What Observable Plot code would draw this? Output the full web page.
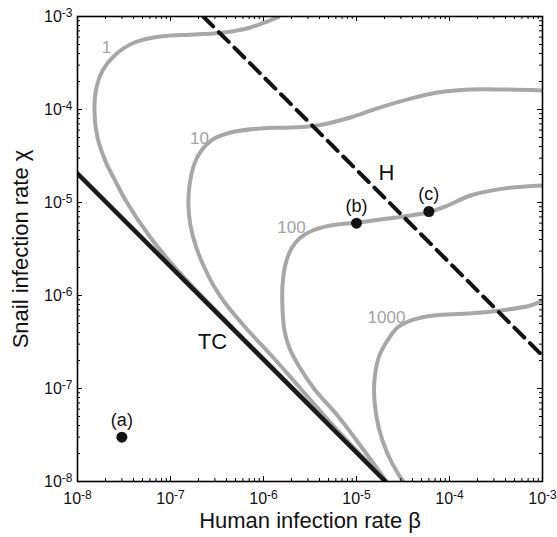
<!DOCTYPE html>
<html>
<head>
<meta charset="utf-8">
<script src="https://cdn.jsdelivr.net/npm/d3@7"></script>
<script src="https://cdn.jsdelivr.net/npm/@observablehq/plot@0.6"></script>
<style>
  html, body { margin: 0; padding: 0; background: #fff; }
  #chart { width: 557px; height: 537px; }
</style>
</head>
<body>
<div id="chart"></div>
<script>
// ---- Axis ticks and labels ----
const majorTicks = [1e-8, 1e-7, 1e-6, 1e-5, 1e-4, 1e-3];
const tickLabels = ["10^-8", "10^-7", "10^-6", "10^-5", "10^-4", "10^-3"];
const xTitle = "Human infection rate β";
const yTitle = "Snail infection rate χ";

// ---- Contour curves [beta, chi] ----
const contour1 = [
  [1.49e-6, 1e-3], [7.24e-7, 7.62e-4], [3.81e-7, 6.73e-4], [1.81e-7, 6.40e-4],
  [7.81e-8, 6.09e-4], [4.10e-8, 5.25e-4], [2.50e-8, 3.81e-4], [1.86e-8, 2.62e-4],
  [1.60e-8, 1.73e-4], [1.52e-8, 9.75e-5], [1.64e-8, 5.0e-5], [2.05e-8, 2.62e-5],
  [2.38e-8, 1.95e-5], [3.45e-8, 9.75e-6], [6.09e-8, 4.2e-6], [1.19e-7, 1.86e-6],
  [4.42e-7, 4.75e-7], [2.5e-6, 8.41e-8], [2.10e-5, 1e-8]
];
const contour10 = [
  [1e-3, 1.60e-4], [4.0e-4, 1.64e-4], [1.68e-4, 1.64e-4], [7.43e-5, 1.52e-4],
  [3.81e-5, 1.31e-4], [1.68e-5, 1.03e-4], [8.61e-6, 8.2e-5], [3.81e-6, 6.73e-5],
  [1.95e-6, 6.40e-5], [9.3e-7, 6.25e-5], [4.42e-7, 5.66e-5], [2.83e-7, 4.75e-5],
  [2.15e-7, 3.62e-5], [1.81e-7, 2.62e-5], [1.60e-7, 1.52e-5], [1.56e-7, 9.29e-6],
  [1.64e-7, 5.66e-6], [1.86e-7, 3.45e-6], [2.26e-7, 2.1e-6], [2.90e-7, 1.28e-6],
  [3.90e-7, 8.2e-7], [6.40e-7, 4.53e-7], [1.19e-6, 2.32e-7], [2.5e-6, 1e-7],
  [5.25e-6, 4.31e-8], [1.10e-5, 1.95e-8], [2.10e-5, 1e-8]
];
const contour100 = [
  [1e-3, 1.52e-5], [3.81e-4, 1.41e-5], [1.68e-4, 1.19e-5], [9.06e-5, 9.06e-6],
  [5.79e-5, 7.80e-6], [3.2e-5, 7.07e-6], [1.81e-5, 6.56e-6], [1.03e-5, 6.09e-6],
  [5.25e-6, 5.66e-6], [3.37e-6, 5.0e-6], [2.5e-6, 4.2e-6], [2.0e-6, 3.2e-6],
  [1.73e-6, 2.21e-6], [1.60e-6, 1.28e-6], [1.60e-6, 7.24e-7], [1.68e-6, 4.2e-7],
  [1.91e-6, 2.69e-7], [2.38e-6, 1.77e-7], [3.62e-6, 9.5e-8], [6.25e-6, 5.13e-8],
  [1.10e-5, 2.44e-8], [2.10e-5, 1e-8]
];
const contour1000 = [
  [1e-3, 8.83e-7], [7.43e-4, 7.80e-7], [3.53e-4, 6.9e-7], [1.56e-4, 6.40e-7],
  [6.73e-5, 6.09e-7], [3.81e-5, 5.38e-7], [2.76e-5, 4.53e-7], [2.15e-5, 3.28e-7],
  [1.73e-5, 2.15e-7], [1.56e-5, 1.22e-7], [1.56e-5, 7.43e-8], [1.73e-5, 3.81e-8],
  [2.15e-5, 2.0e-8], [2.83e-5, 1.19e-8], [3.2e-5, 1e-8]
];
const contourLevels = ["1", "10", "100", "1000"];
const contourLabelBeta = [2.05e-8, 2.05e-7, 2.0e-6, 2.1e-5];
const contourLabelChi = [4.64e-4, 4.88e-5, 5.4e-6, 5.8e-7];

// ---- Threshold lines ----
const tcLine = [[1e-8, 2.05e-5], [2.05e-5, 1e-8]];
const hLine = [[2.25e-7, 1e-3], [1e-3, 2.25e-7]];
const lineNames = ["TC", "H"];
const lineLabelBeta = [2.83e-7, 2.1e-5];
const lineLabelChi = [3.13e-7, 2.1e-5];

// ---- Marked points ----
const pointNames = ["(a)", "(b)", "(c)"];
const pointBeta = [3e-8, 1e-5, 6e-5];
const pointChi = [3e-8, 6e-6, 8e-6];

// minor tick positions (2..9 x each decade)
const minorTicks = [];
for (let e = -8; e < -3; e++) for (let m = 2; m <= 9; m++) minorTicks.push(m * Math.pow(10, e));

const W = 557, H = 537;
const mL = 77, mR = 15, mT = 16, mB = 56;
const innerW = W - mL - mR, innerH = H - mT - mB;
const gray = "#a7a7a7";
const labelGray = "#a3a3a3";
const font = "'Liberation Sans', Arial, Helvetica, sans-serif";

const fmt = d => {
  const i = majorTicks.findIndex(t => Math.abs(Math.log10(t / d)) < 1e-6);
  return i >= 0 ? tickLabels[i] : "";
};
const bx = d => d[0], cy = d => d[1];
const contourStyle = {x: bx, y: cy, curve: "catmull-rom", stroke: gray, strokeWidth: 4, clip: true, strokeLinecap: "butt"};

const chart = Plot.plot({
  width: W, height: H,
  marginLeft: mL, marginRight: mR, marginTop: mT, marginBottom: mB,
  style: {fontFamily: font, fontSize: "16px", background: "#fff", overflow: "visible"},
  x: {type: "log", domain: [1e-8, 1e-3], axis: null},
  y: {type: "log", domain: [1e-8, 1e-3], axis: null},
  marks: [
    Plot.line(contour1, contourStyle),
    Plot.line(contour10, contourStyle),
    Plot.line(contour100, contourStyle),
    Plot.line(contour1000, contourStyle),
    Plot.line(tcLine, {x: bx, y: cy, stroke: "#1a1a1a", strokeWidth: 4.5, clip: true}),
    Plot.line(hLine, {x: bx, y: cy, stroke: "#111", strokeWidth: 4, strokeDasharray: "14,8", clip: true}),
    Plot.text(contourLevels, {x: (d, i) => contourLabelBeta[i], y: (d, i) => contourLabelChi[i], text: d => d, fill: labelGray, fontSize: 17}),
    Plot.text(lineNames, {x: (d, i) => lineLabelBeta[i], y: (d, i) => lineLabelChi[i], text: d => d, fill: "#111", fontSize: 22}),
    Plot.dot(pointNames, {x: (d, i) => pointBeta[i], y: (d, i) => pointChi[i], r: 5.5, fill: "#111", stroke: "none"}),
    Plot.text(pointNames, {x: (d, i) => pointBeta[i], y: (d, i) => pointChi[i], text: d => d, dy: -17, fill: "#111", fontSize: 18}),
    // inward ticks on all four sides
    Plot.tickX(majorTicks, {x: d => d, insetTop: innerH - 5, stroke: "#000", strokeWidth: 1}),
    Plot.tickX(minorTicks, {x: d => d, insetTop: innerH - 3, stroke: "#000", strokeWidth: 1}),
    Plot.tickX(majorTicks, {x: d => d, insetBottom: innerH - 5, stroke: "#000", strokeWidth: 1}),
    Plot.tickX(minorTicks, {x: d => d, insetBottom: innerH - 3, stroke: "#000", strokeWidth: 1}),
    Plot.tickY(majorTicks, {y: d => d, insetRight: innerW - 5, stroke: "#000", strokeWidth: 1}),
    Plot.tickY(minorTicks, {y: d => d, insetRight: innerW - 3, stroke: "#000", strokeWidth: 1}),
    Plot.tickY(majorTicks, {y: d => d, insetLeft: innerW - 5, stroke: "#000", strokeWidth: 1}),
    Plot.tickY(minorTicks, {y: d => d, insetLeft: innerW - 3, stroke: "#000", strokeWidth: 1}),
    Plot.frame({stroke: "#000", strokeWidth: 1.6}),
    Plot.axisX({anchor: "bottom", ticks: majorTicks, tickSize: 0, tickPadding: 11, tickFormat: fmt, fontSize: 16, label: null}),
    Plot.axisY({anchor: "left", ticks: majorTicks, tickSize: 0, tickPadding: 5, tickFormat: fmt, fontSize: 16, label: null}),
    Plot.text([xTitle], {frameAnchor: "bottom", dy: 39, text: d => d, fontSize: 22, fill: "#111", lineAnchor: "middle", textAnchor: "middle"}),
    Plot.text([yTitle], {frameAnchor: "left", dx: -57, rotate: -90, text: d => d, fontSize: 22, fill: "#111", lineAnchor: "middle", textAnchor: "middle"})
  ]
});

// superscript exponents on tick labels
const ns = "http://www.w3.org/2000/svg";
chart.querySelectorAll('g[aria-label="x-axis tick label"] text, g[aria-label="y-axis tick label"] text').forEach(t => {
  const m = (t.textContent || "").match(/^10\^(-?\d+)$/);
  if (!m) return;
  t.textContent = "";
  t.setAttribute("font-size", "16");
  t.style.fontSize = "16px";
  const base = document.createElementNS(ns, "tspan");
  base.textContent = "10";
  base.setAttribute("font-size", "16");
  const sup = document.createElementNS(ns, "tspan");
  sup.textContent = m[1];
  sup.setAttribute("font-size", "12");
  sup.setAttribute("dy", "-5");
  t.appendChild(base);
  t.appendChild(sup);
});
chart.querySelectorAll('g[aria-label="x-axis tick label"], g[aria-label="y-axis tick label"]').forEach(g => {
  g.setAttribute("fill", "#111");
  g.setAttribute("font-size", "16");
});

document.getElementById("chart").appendChild(chart);
</script>
</body>
</html>
